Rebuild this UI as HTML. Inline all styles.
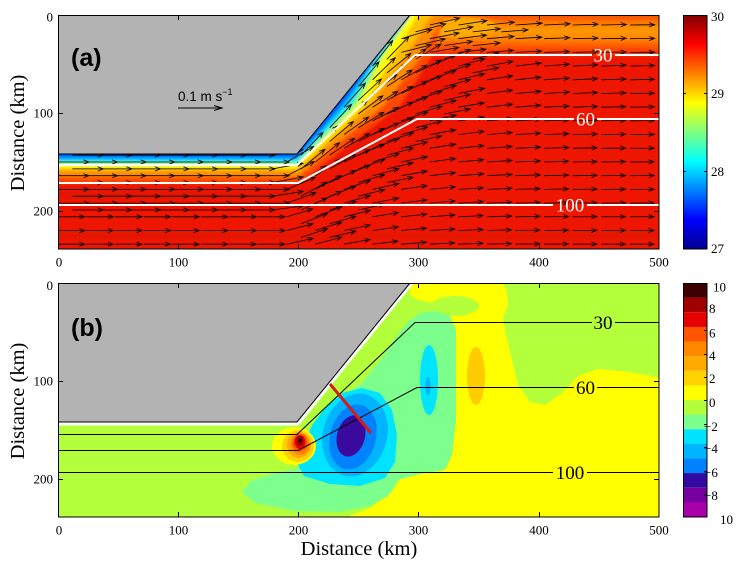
<!DOCTYPE html>
<html><head><meta charset="utf-8">
<style>
html,body{margin:0;padding:0;background:#fff;}
svg{display:block;}
text{font-family:"Liberation Serif",serif;}
.sans{font-family:"Liberation Sans",sans-serif;}
</style></head><body>
<svg width="737" height="562" viewBox="0 0 737 562" xmlns="http://www.w3.org/2000/svg">
<defs>
<clipPath id="ca"><rect x="58" y="15" width="601" height="234"/></clipPath>
<clipPath id="cb"><rect x="58" y="283" width="601" height="234"/></clipPath>
<filter id="bl" x="-5%" y="-5%" width="110%" height="110%"><feGaussianBlur stdDeviation="1.6"/></filter>
<linearGradient id="topg" gradientUnits="userSpaceOnUse" x1="0" y1="15" x2="0" y2="57">
<stop offset="0" stop-color="#ff4a00"/><stop offset="0.15" stop-color="#ff7000"/><stop offset="0.35" stop-color="#ff9a00"/><stop offset="0.55" stop-color="#ff8a00"/><stop offset="0.8" stop-color="#ff4a00"/><stop offset="1" stop-color="#f02000"/>
</linearGradient>
<linearGradient id="jet" x1="0" y1="1" x2="0" y2="0">
<stop offset="0" stop-color="#00008f"/><stop offset="0.125" stop-color="#0000ff"/><stop offset="0.375" stop-color="#00ffff"/><stop offset="0.625" stop-color="#ffff00"/><stop offset="0.875" stop-color="#ff0000"/><stop offset="1" stop-color="#800000"/>
</linearGradient>
</defs>

<!-- ================= PANEL (a) ================= -->
<g clip-path="url(#ca)">
 <g filter="url(#bl)">
  <rect x="40" y="0" width="640" height="260" fill="#ee1600"/>
  <rect x="40" y="190" width="300" height="8" fill="#d81000" opacity="0.5"/>
  <rect x="40" y="232" width="640" height="7" fill="#d81000" opacity="0.4"/>
  <polygon points="380,0 670,0 670,57 380,57" fill="url(#topg)"/>
  <ellipse cx="462" cy="27" rx="35" ry="10" fill="#ffac00"/>
  <polygon points="40,0 40,183 299,183 400,105 432,55 445,15 445,0" fill="#ff4800"/>
  <polygon points="40,0 40,177 298,177 384,105 422,55 445,15 445,0" fill="#ff8c00"/>
  <polygon points="40,0 40,171 298,171 371,105 406,55 432,15 432,0" fill="#ffc000"/>
  <polygon points="40,0 40,168 297,168 364,105 394,55 418,15 418,0" fill="#ffff00"/>
  <polygon points="40,0 40,165 297,165 357,105 384,55 411,15 411,0" fill="#80ff80"/>
  <polygon points="40,0 40,162 297,162 351,105 380,55 410,15 410,0" fill="#00e0ff"/>
  <polygon points="40,0 40,159 297,159 345,105 378.5,55 410,15 410,0" fill="#00a0ff"/>
  <polygon points="40,0 40,157 297,157 341,105 378,55 410,15 410,0" fill="#0050ff"/>
 </g>
 <path id="qv" d="" fill="none" stroke="#000" stroke-width="0.8"/>
 <polyline points="58,165 297,165 415,55 592,55" fill="none" stroke="#fff" stroke-width="2"/>
 <line x1="615" y1="55" x2="660" y2="55" stroke="#fff" stroke-width="2"/>
 <polyline points="58,183 298,183 417,119 574,119" fill="none" stroke="#fff" stroke-width="2"/>
 <line x1="597" y1="119" x2="660" y2="119" stroke="#fff" stroke-width="2"/>
 <line x1="58" y1="205" x2="553" y2="205" stroke="#fff" stroke-width="2"/>
 <line x1="587" y1="205" x2="660" y2="205" stroke="#fff" stroke-width="2"/>
 <text x="603" y="61.5" font-size="19" fill="#fff" text-anchor="middle">30</text>
 <text x="585.5" y="125.5" font-size="19" fill="#fff" text-anchor="middle">60</text>
 <text x="570" y="211.5" font-size="19" fill="#fff" text-anchor="middle">100</text>
 <polygon points="50,0 410,0 410,15 297,154 50,154" fill="#b3b3b3"/>
 <polyline points="50,154 297,154 410,15" fill="none" stroke="#000" stroke-width="1"/>
</g>
<rect x="58.5" y="15.5" width="600.5" height="233.5" fill="none" stroke="#000" stroke-width="1"/>
<g stroke="#000" stroke-width="1">
 <line x1="178.5" y1="249" x2="178.5" y2="244"/><line x1="298.5" y1="249" x2="298.5" y2="244"/><line x1="418.5" y1="249" x2="418.5" y2="244"/><line x1="539.5" y1="249" x2="539.5" y2="244"/>
 <line x1="178.5" y1="15" x2="178.5" y2="20"/><line x1="298.5" y1="15" x2="298.5" y2="20"/><line x1="418.5" y1="15" x2="418.5" y2="20"/><line x1="539.5" y1="15" x2="539.5" y2="20"/>
 <line x1="58" y1="113.5" x2="63" y2="113.5"/><line x1="58" y1="211.5" x2="63" y2="211.5"/>
 <line x1="659" y1="113.5" x2="654" y2="113.5"/><line x1="659" y1="211.5" x2="654" y2="211.5"/>
</g>
<text class="sans" x="71" y="66" font-size="25" font-weight="bold">(a)</text>
<text class="sans" x="178" y="101" font-size="13.5">0.1 m s<tspan font-size="9" dy="-6">−1</tspan></text>
<g stroke="#000" stroke-width="1" fill="none">
 <line x1="178" y1="108" x2="222" y2="108"/>
 <polyline points="214,105.5 222,108 214,110.5"/>
</g>
<g font-size="13" text-anchor="end">
 <text x="53" y="21.5">0</text><text x="53" y="117.5">100</text><text x="53" y="215.5">200</text>
</g>
<g font-size="13" text-anchor="middle">
 <text x="59" y="266.5">0</text><text x="178.5" y="266.5">100</text><text x="298.5" y="266.5">200</text><text x="418.5" y="266.5">300</text><text x="539" y="266.5">400</text><text x="659" y="266.5">500</text>
</g>
<text x="0" y="0" font-size="20.5" text-anchor="middle" transform="translate(24,133) rotate(-90)">Distance (km)</text>

<!-- colorbar a -->
<rect x="683" y="15" width="24" height="234" fill="url(#jet)"/>
<rect x="683.5" y="15.5" width="23.5" height="233.5" fill="none" stroke="#000" stroke-width="1"/>
<g stroke="#000" stroke-width="1">
 <line x1="683" y1="93.5" x2="686" y2="93.5"/><line x1="707" y1="93.5" x2="704" y2="93.5"/>
 <line x1="683" y1="171.5" x2="686" y2="171.5"/><line x1="707" y1="171.5" x2="704" y2="171.5"/>
</g>
<g font-size="13">
 <text x="711" y="21">30</text><text x="711" y="98">29</text><text x="711" y="176">28</text><text x="711" y="253">27</text>
</g>

<!-- ================= PANEL (b) ================= -->
<g clip-path="url(#cb)">
 <rect x="58" y="283" width="601" height="234" fill="#b4ff3c"/>
 <polygon points="410,280 502,280 507,292 508,305 503,318 506,335 512,360 518,385 530,402 545,405 562,393 578,376 598,369 630,372 662,378 662,520 340,520 370,508 392,492 405,472 440,470 452,440 452,330 448,318 440,305 430,302 418,300 410,295" fill="#ffff00"/>
 <ellipse cx="455" cy="306" rx="24" ry="10" fill="#b4ff3c"/>
 <polygon points="300,458 308,432 322,412 340,398 362,383 382,358 395,338 408,322 420,313 436,311 450,316 456,330 456,420 452,455 445,470 420,474 398,480 388,496 370,506 340,512 295,511 255,503 242,492 252,480 280,472 298,468" fill="#7cff8c"/>
 <polygon points="303,450 312,425 325,408 342,393 362,388 380,393 392,410 397,435 395,462 385,478 360,486 330,484 304,476 298,465" fill="#00e4ff"/>
 <ellipse cx="355" cy="435" rx="32" ry="42" transform="rotate(15 355 435)" fill="#00b4ff"/>
 <ellipse cx="353" cy="437" rx="23" ry="33" transform="rotate(15 353 437)" fill="#0082ff"/>
 <ellipse cx="351" cy="436" rx="14" ry="21" transform="rotate(15 351 436)" fill="#3a0a9e"/>
 <ellipse cx="429" cy="380" rx="9" ry="35" fill="#00e4ff"/>
 <ellipse cx="428" cy="386" rx="2.5" ry="9" fill="#00b4ff"/>
 <ellipse cx="476" cy="376" rx="9" ry="29" fill="#ffcc00"/>
 <ellipse cx="294" cy="446" rx="22" ry="19" fill="#ffff00"/>
 <ellipse cx="298" cy="446" rx="16" ry="16" fill="#ffd200"/>
 <ellipse cx="299" cy="445" rx="12" ry="13" fill="#ffaa00"/>
 <ellipse cx="300" cy="444" rx="9.5" ry="11" fill="#ff8800"/>
 <ellipse cx="300" cy="443" rx="7.5" ry="9" fill="#ff5500"/>
 <ellipse cx="300" cy="442" rx="5.5" ry="7" fill="#e60000"/>
 <ellipse cx="300" cy="441" rx="3.5" ry="5" fill="#a00000"/>
 <ellipse cx="300" cy="440" rx="2" ry="3" fill="#3c0000"/>
 <g fill="none" stroke="#000" stroke-width="1">
  <polyline points="58,434.5 297,434.5 415,322.5 592,322.5"/>
  <line x1="615" y1="322.5" x2="660" y2="322.5"/>
  <polyline points="58,450.5 298,450.5 417,387.5 574,387.5"/>
  <line x1="597" y1="387.5" x2="660" y2="387.5"/>
  <line x1="58" y1="472.5" x2="553" y2="472.5"/>
  <line x1="587" y1="472.5" x2="660" y2="472.5"/>
 </g>
 <text x="603" y="329" font-size="19" text-anchor="middle">30</text>
 <text x="585.5" y="394" font-size="19" text-anchor="middle">60</text>
 <text x="570" y="479" font-size="19" text-anchor="middle">100</text>
 <polyline points="50,424 298,424 412,283" fill="none" stroke="#fff" stroke-width="3"/>
 <polygon points="50,270 420,270 410,283 297,422 50,422" fill="#b3b3b3"/>
 <polyline points="50,422 297,422 410,283" fill="none" stroke="#000" stroke-width="1"/>
 <line x1="330" y1="384" x2="371" y2="433" stroke="#d81a1a" stroke-width="3"/>
</g>
<rect x="58.5" y="283.5" width="600.5" height="233.5" fill="none" stroke="#000" stroke-width="1"/>
<g stroke="#000" stroke-width="1">
 <line x1="178.5" y1="517" x2="178.5" y2="512"/><line x1="298.5" y1="517" x2="298.5" y2="512"/><line x1="418.5" y1="517" x2="418.5" y2="512"/><line x1="539.5" y1="517" x2="539.5" y2="512"/>
 <line x1="178.5" y1="283" x2="178.5" y2="288"/><line x1="298.5" y1="283" x2="298.5" y2="288"/><line x1="418.5" y1="283" x2="418.5" y2="288"/><line x1="539.5" y1="283" x2="539.5" y2="288"/>
 <line x1="58" y1="381.5" x2="63" y2="381.5"/><line x1="58" y1="479.5" x2="63" y2="479.5"/>
 <line x1="659" y1="381.5" x2="654" y2="381.5"/><line x1="659" y1="479.5" x2="654" y2="479.5"/>
</g>
<text class="sans" x="71" y="336" font-size="25" font-weight="bold">(b)</text>
<g font-size="13" text-anchor="end">
 <text x="53" y="290">0</text><text x="53" y="385.5">100</text><text x="53" y="483.5">200</text>
</g>
<g font-size="13" text-anchor="middle">
 <text x="59" y="534.5">0</text><text x="178.5" y="534.5">100</text><text x="298.5" y="534.5">200</text><text x="418.5" y="534.5">300</text><text x="539" y="534.5">400</text><text x="659" y="534.5">500</text>
</g>
<text x="0" y="0" font-size="20.5" text-anchor="middle" transform="translate(24,401) rotate(-90)">Distance (km)</text>
<text x="359" y="555" font-size="20.5" text-anchor="middle">Distance (km)</text>

<!-- colorbar b -->
<g>
 <rect x="683" y="283" width="24" height="14.7" fill="#3c0000"/>
 <rect x="683" y="297.6" width="24" height="14.7" fill="#a00000"/>
 <rect x="683" y="312.3" width="24" height="14.7" fill="#e60000"/>
 <rect x="683" y="326.9" width="24" height="14.7" fill="#ff5500"/>
 <rect x="683" y="341.5" width="24" height="14.7" fill="#ff8800"/>
 <rect x="683" y="356.1" width="24" height="14.7" fill="#ffaa00"/>
 <rect x="683" y="370.8" width="24" height="14.7" fill="#ffd200"/>
 <rect x="683" y="385.4" width="24" height="14.7" fill="#ffff00"/>
 <rect x="683" y="400" width="24" height="14.7" fill="#b4ff3c"/>
 <rect x="683" y="414.6" width="24" height="14.7" fill="#7cff8c"/>
 <rect x="683" y="429.3" width="24" height="14.7" fill="#00e4ff"/>
 <rect x="683" y="443.9" width="24" height="14.7" fill="#00b4ff"/>
 <rect x="683" y="458.5" width="24" height="14.7" fill="#0082ff"/>
 <rect x="683" y="473.1" width="24" height="14.7" fill="#320aa0"/>
 <rect x="683" y="487.8" width="24" height="14.7" fill="#7800a0"/>
 <rect x="683" y="502.4" width="24" height="14.6" fill="#aa00aa"/>
</g>
<rect x="683.5" y="283.5" width="23.5" height="233.5" fill="none" stroke="#000" stroke-width="1"/>
<g stroke="#000" stroke-width="1">
 <line x1="704" y1="307.5" x2="707" y2="307.5"/><line x1="704" y1="330.5" x2="707" y2="330.5"/><line x1="704" y1="354.5" x2="707" y2="354.5"/><line x1="704" y1="377.5" x2="707" y2="377.5"/><line x1="704" y1="400.5" x2="707" y2="400.5"/><line x1="704" y1="424.5" x2="707" y2="424.5"/><line x1="704" y1="447.5" x2="707" y2="447.5"/><line x1="704" y1="471.5" x2="707" y2="471.5"/><line x1="704" y1="494.5" x2="707" y2="494.5"/>
</g>
<g font-size="13">
 <text x="713" y="291.5">10</text>
 <text x="709" y="313">8</text>
 <text x="709" y="337.5">6</text>
 <text x="709" y="360">4</text>
 <text x="709" y="383">2</text>
 <text x="709" y="407">0</text>
 <text x="704" y="431">−2</text>
 <text x="704" y="453">−4</text>
 <text x="704" y="477">−6</text>
 <text x="704" y="500">−8</text>
 <text x="720" y="524">10</text>
</g>
</svg>
<script>
(function(){
 var d='';
 function f(v){return Math.round(v*10)/10;}
 function xc(y){return 297+(154-y)*0.813;}
 var c=Math.cos(0.36), s=Math.sin(0.36);
 function arrow(x,y,L,a){
  var r=a*Math.PI/180, ux=Math.cos(r), uy=-Math.sin(r);
  var x2=x+ux*L, y2=y+uy*L, h=6, bx=-ux, by=-uy;
  var h1x=x2+h*(bx*c-by*s), h1y=y2+h*(bx*s+by*c);
  var h2x=x2+h*(bx*c+by*s), h2y=y2+h*(-bx*s+by*c);
  d+='M'+f(x)+' '+f(y)+'L'+f(x2)+' '+f(y2)+'M'+f(h1x)+' '+f(h1y)+'L'+f(x2)+' '+f(y2)+'L'+f(h2x)+' '+f(h2y);
 }
 function pt(x,y){
  if(y<154 && x<xc(y)+4) return;
  if(x>662||y>249) return;
  var d0=(x-297)*0.776+(y-154)*0.631;
  var w=Math.max(0,Math.min(1,(x-265)/40));
  var ang=w*55*Math.exp(-Math.max(d0,0)/55);
  if(y<57) ang*=0.35;
  var L=24+9*w*Math.exp(-Math.max(d0,0)/70);
  if(x<300&&y>154) L=(y<212?31:27);
  arrow(x,y,L,ang);
 }
 for(var j=0;j<17;j++){
  var y=25+13.7*j;
  for(var i=0;i<22;i++){
   var x=58+28.6*i;
   pt(x,y);
   var xe=x+14.3, ye=y+6.85;
   var de=(xe-297)*0.776+(ye-154)*0.631;
   if(ye<248 && ((xe>290 && de<90) || (xe<290 && ye>154 && ye<215))) pt(xe,ye);
  }
 }
 document.getElementById('qv').setAttribute('d',d);
})();
</script>
</body></html>
